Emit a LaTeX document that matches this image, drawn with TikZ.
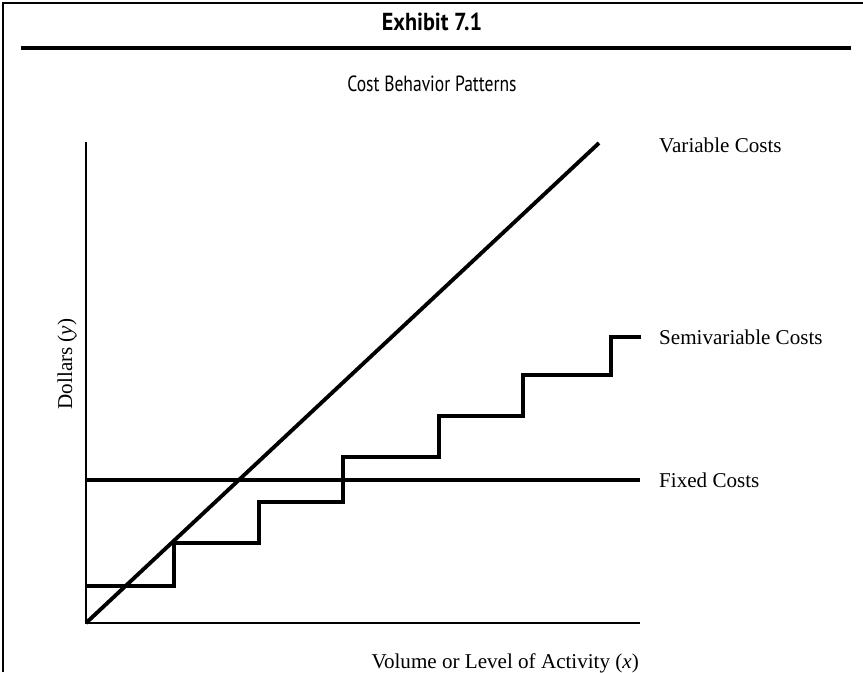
\documentclass[tikz,border=0pt]{standalone}
\usepackage{graphicx}
\usepackage{fontspec}
\setmainfont{Liberation Serif}
\newfontfamily\exhibitfont{PT Sans}
\begin{document}
\begin{tikzpicture}
			\useasboundingbox (-1.72,-0.98) rectangle (15.54,12.46);
			% frame and heading
			\draw[draw=black, line width=0.9pt, solid] (-1.66,-0.98) -- (-1.66,12.40) -- (15.54,12.40);
			\draw[draw=black, line width=1.8pt, solid] (-1.30,11.50) -- (15.30,11.50);
			\node[black] (exhibit) at (6.92,12.02) {\scalebox{0.9}[1]{\exhibitfont\fontsize{14}{16}\selectfont\bfseries Exhibit 7.1}};
			\node[black] (heading) at (6.92,10.78) {\scalebox{0.8}[1]{\exhibitfont\fontsize{12.5}{14}\selectfont Cost Behavior Patterns}};
			% axes
			\draw[draw=black, line width=1.4pt, solid] (0.00,9.62) -- (0.00,0.00) -- (11.08,0.00);
			% fixed, variable and semivariable costs
			\draw[draw=black, line width=1.9pt, solid] (0.00,2.86) -- (11.08,2.86);
			\draw[draw=black, line width=2.2pt, solid] (0.00,0.00) -- (10.26,9.60);
			\draw[draw=black, line width=1.9pt, solid] (0.00,0.74) -- (1.76,0.74) -- (1.76,1.60)
				-- (3.46,1.60) -- (3.46,2.42) -- (5.14,2.42) -- (5.14,3.32)
				-- (7.06,3.32) -- (7.06,4.14) -- (8.74,4.14) -- (8.74,4.96)
				-- (10.50,4.96) -- (10.50,5.72) -- (11.10,5.72);
			% labels
			\node[black, anchor=west] (variable) at (11.34,9.56) {\fontsize{12}{14}\selectfont Variable Costs};
			\node[black, anchor=west] (semivariable) at (11.34,5.72) {\fontsize{12}{14}\selectfont Semivariable Costs};
			\node[black, anchor=west] (fixed) at (11.34,2.86) {\fontsize{12}{14}\selectfont Fixed Costs};
			\node[black, anchor=east] (volume) at (11.18,-0.80) {\fontsize{12}{14}\selectfont Volume or Level of Activity (\textit{x})};
			\node[black, rotate=90] (dollars) at (-0.38,5.18) {\fontsize{12}{14}\selectfont Dollars (\textit{y})};
		\end{tikzpicture}
\end{document}
